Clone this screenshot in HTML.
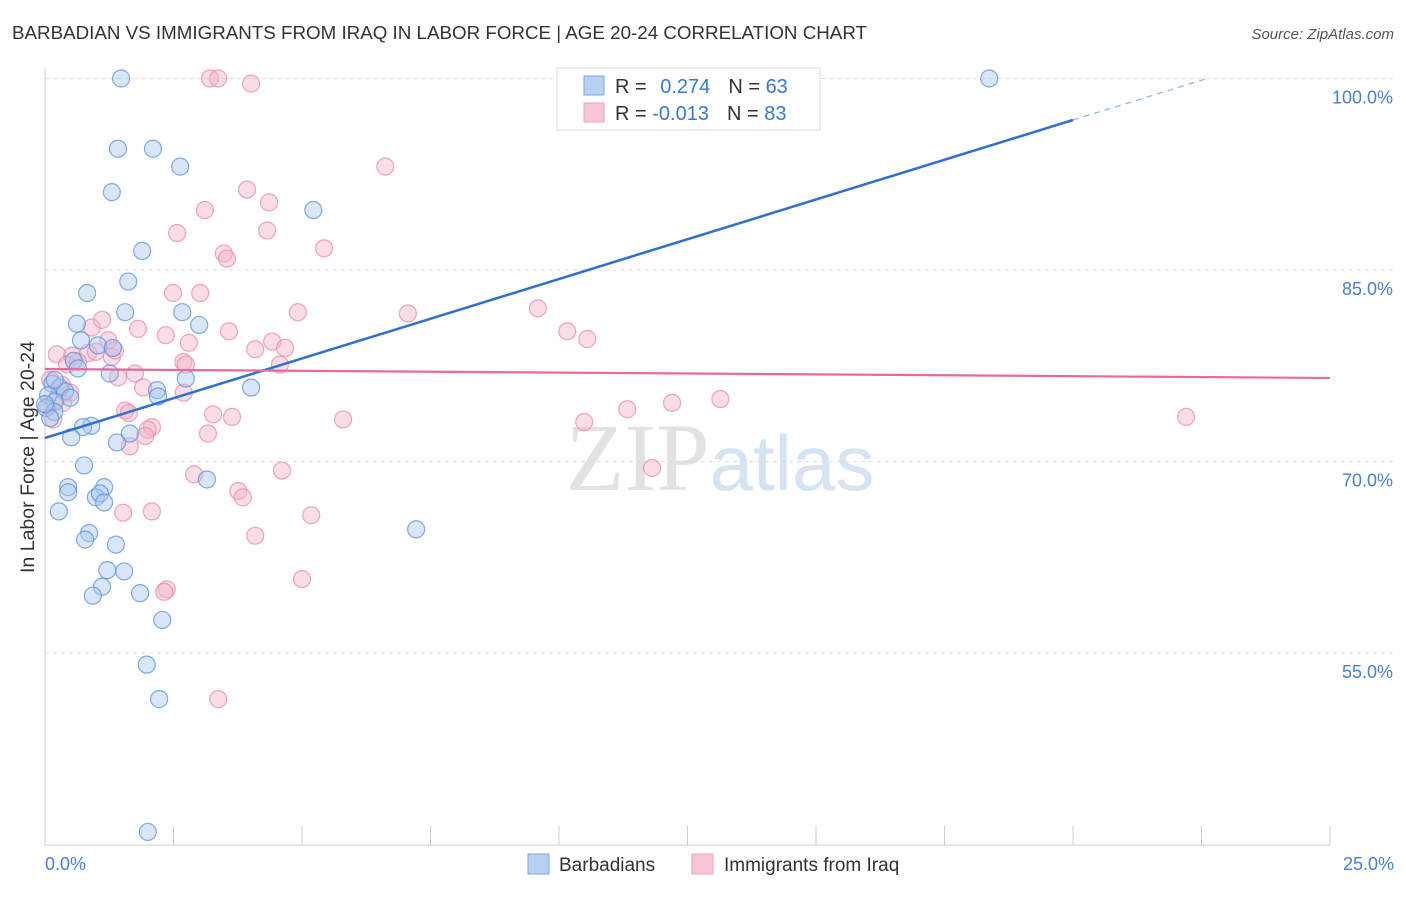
<!DOCTYPE html>
<html><head><meta charset="utf-8"><style>
body{margin:0;background:#fff;font-family:"Liberation Sans",sans-serif;}
svg text{font-family:"Liberation Sans",sans-serif;}
</style></head><body>
<svg id="chart" width="1406" height="892" xmlns="http://www.w3.org/2000/svg">
<text x="12" y="39" font-size="18" fill="#333" textLength="855" lengthAdjust="spacingAndGlyphs">BARBADIAN VS IMMIGRANTS FROM IRAQ IN LABOR FORCE | AGE 20-24 CORRELATION CHART</text>
<text x="1394" y="39" font-size="15" fill="#555" text-anchor="end" font-style="italic">Source: ZipAtlas.com</text>
<text x="720" y="490" font-size="96" text-anchor="middle"><tspan fill="#e2e2e2" font-family="Liberation Serif">ZIP</tspan><tspan fill="#d6e3f3" font-size="78">atlas</tspan></text>
<g id="grid"></g>
<g id="axes"></g>
<g id="pts"></g>
<g id="lines"></g>
<text transform="translate(34,457) rotate(-90)" font-size="19" fill="#333" text-anchor="middle" textLength="232" lengthAdjust="spacingAndGlyphs">In Labor Force | Age 20-24</text>
<text x="45" y="870" font-size="18" fill="#4a7fd4">0.0%</text>
<text x="1394" y="870" font-size="18" fill="#4a7fd4" text-anchor="end">25.0%</text>
<g>
<rect x="557" y="68" width="263" height="62" fill="#fff" stroke="#ddd"/>
<rect x="584" y="76" width="20" height="19" fill="#b8d1f3" stroke="#7aa6e6"/>
<rect x="584" y="103" width="20" height="19" fill="#f8c6d5" stroke="#eda4bb"/>
<text x="615" y="93" font-size="20" fill="#333">R = <tspan fill="#3a78d4" dx="8">0.274</tspan><tspan dx="18" fill="#333">N = </tspan><tspan fill="#3a78d4">63</tspan></text>
<text x="615" y="120" font-size="20" fill="#333">R = <tspan fill="#3a78d4">-0.013</tspan><tspan dx="18" fill="#333">N = </tspan><tspan fill="#3a78d4">83</tspan></text>
</g>
<g>
<rect x="528" y="854" width="21" height="20" fill="#b8d1f3" stroke="#7aa6e6"/>
<text x="559" y="871" font-size="19" fill="#333">Barbadians</text>
<rect x="692" y="854" width="21" height="20" fill="#f8c6d5" stroke="#eda4bb"/>
<text x="724" y="871" font-size="19" fill="#333">Immigrants from Iraq</text>
</g>
</svg>
<script>
const blueX=[1.48,1.42,2.10,2.63,1.30,5.22,1.89,1.62,0.82,1.56,2.67,0.62,3.00,0.70,1.03,1.32,0.56,0.64,1.26,2.74,0.14,0.29,0.39,0.06,0.49,2.18,4.01,2.20,0.19,0.02,0.18,0.10,0.90,0.74,1.65,0.51,1.40,0.76,3.15,0.45,0.45,1.15,0.99,1.07,1.15,0.27,7.22,0.86,0.78,1.38,1.54,1.21,1.11,0.93,1.85,2.28,1.98,2.22,2.00,18.37,0.19,0.0];
const blueY=[100,94.5,94.5,93.1,91.1,89.7,86.5,84.1,83.2,81.7,81.7,80.8,80.7,79.5,79.1,78.9,77.9,77.3,76.9,76.5,76.1,75.8,75.5,75.2,75.0,75.6,75.8,75.1,74.7,74.2,73.9,73.4,72.8,72.7,72.2,71.9,71.5,69.7,68.6,68.0,67.6,68.0,67.2,67.5,66.8,66.1,64.7,64.4,63.9,63.5,61.4,61.5,60.2,59.5,59.7,57.6,54.1,51.4,41.0,100,76.4,74.5];
const pinkX=[3.21,3.37,4.01,6.62,3.93,3.11,4.36,2.57,4.32,3.48,3.54,5.43,2.49,3.02,4.92,7.06,9.59,0.91,1.11,1.81,2.35,3.58,10.16,10.55,1.23,2.80,4.42,4.67,4.09,0.23,0.53,0.84,0.99,1.30,1.36,0.43,0.64,2.69,2.74,4.57,1.75,1.42,0.10,0.33,1.91,0.49,0.25,2.70,0.06,0.35,11.33,12.20,13.14,1.56,1.63,3.27,3.64,5.80,22.20,10.49,2.08,2.00,3.17,1.65,0.16,1.95,11.81,2.90,4.61,3.76,3.85,1.52,2.08,5.18,4.09,2.37,2.32,5.00,3.37];
const pinkY=[100,100,99.6,93.1,91.3,89.7,90.3,87.9,88.1,86.3,85.9,86.7,83.2,83.2,81.7,81.6,82.0,80.5,81.1,80.4,79.9,80.2,80.2,79.6,79.5,79.3,79.4,78.9,78.8,78.4,78.3,78.5,78.6,78.2,78.7,77.6,77.8,77.8,77.6,77.6,76.9,76.6,76.4,76.0,75.8,75.4,75.1,75.4,74.4,74.6,74.1,74.6,74.9,74.0,73.8,73.7,73.5,73.3,73.5,73.1,72.7,72.5,72.2,71.2,73.3,72.0,69.5,69.0,69.3,67.7,67.2,66.0,66.1,65.8,64.2,60.0,59.8,60.8,51.4];
const yTicks=[100,85,70,55];
const yTickLabels=["100.0%","85.0%","70.0%","55.0%"];
const xTicks=[0,2.5,5,7.5,10,12.5,15,17.5,20,22.5,25];
const blueTrend=[71.85,96.75]; // y at x=0 and x=20
const pinkTrend=[77.25,76.55]; // y at x=0 and x=25

const NS="http://www.w3.org/2000/svg";
const sx=v=>45+v/25*1285;
const sy=v=>78.5+(100-v)*12.77;
function mk(tag,attrs,parent){const e=document.createElementNS(NS,tag);for(const k in attrs)e.setAttribute(k,attrs[k]);document.getElementById(parent).appendChild(e);return e;}

yTicks.forEach((t,i)=>{
  const l=mk('line',{x1:45,x2:1393,y1:sy(t),y2:sy(t),stroke:'#ddd','stroke-dasharray':'4,4'},'grid');
  
  
  const tx=mk('text',{x:1393,y:sy(t)+25,'font-size':18,fill:'#4a7fd4','text-anchor':'end'},'grid');
  tx.textContent=yTickLabels[i];
  
  
});
const ax=mk('line',{x1:45,x2:45,y1:68,y2:845,stroke:'#ccc'},'axes');


const bx=mk('line',{x1:45,x2:1330,y1:845,y2:845,stroke:'#ccc'},'axes');


xTicks.forEach(t=>{
  const l=mk('line',{x1:sx(t),x2:sx(t),y1:826,y2:845,stroke:'#ccc'},'axes');
  
  
});
function pts(xs,ys,fill,stroke,name){
  xs.forEach((x,i)=>{
    const c=mk('circle',{cx:sx(x),cy:sy(ys[i]),r:8.5,fill:fill,'fill-opacity':0.45,stroke:stroke,'stroke-width':1.2,'stroke-opacity':0.75},'pts');
    
    
  });
}
pts(pinkX,pinkY,'#f5b3c8','#e88aa8','iraq-point');
pts(blueX,blueY,'#a9c8f0','#5b8fdc','barbadian-point');
const bl=mk('line',{x1:sx(0),y1:sy(blueTrend[0]),x2:sx(20),y2:sy(blueTrend[1]),stroke:'#2f6fd6','stroke-width':2.5},'lines');


const slope=(blueTrend[1]-blueTrend[0])/20;
const xEnd=(100-blueTrend[0])/slope;
const bd=mk('line',{x1:sx(20),y1:sy(blueTrend[1]),x2:sx(xEnd),y2:sy(100),stroke:'#8fb2e8','stroke-width':1.2,'stroke-dasharray':'6,5'},'lines');


const pl=mk('line',{x1:sx(0),y1:sy(pinkTrend[0]),x2:sx(25),y2:sy(pinkTrend[1]),stroke:'#e8699a','stroke-width':2.2},'lines');


</script>
</body></html>
